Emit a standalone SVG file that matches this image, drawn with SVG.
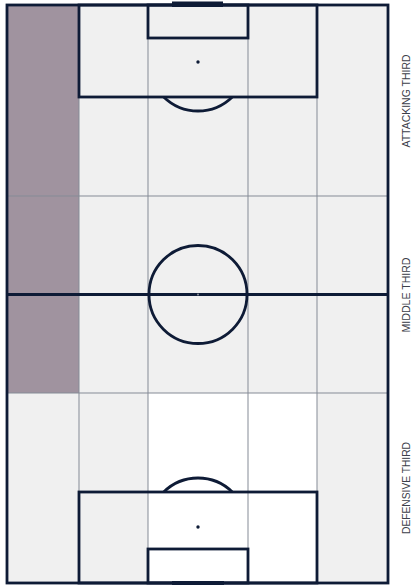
<svg xmlns="http://www.w3.org/2000/svg" width="411" height="585" viewBox="0 0 411 585">
  <style>
    .grid { stroke: #858b96; stroke-width: 1; fill: none; }
    .line { stroke: #0e1b36; stroke-width: 2.8; fill: none; }
    .spot { fill: #0e1b36; }
    .label { font-family: "Liberation Sans", Arial, sans-serif; font-size: 10px; fill: #3c404a; text-anchor: middle; }
  </style>
  <rect x="0" y="0" width="411" height="585" fill="#ffffff"/>
  <g id="zones">
    <rect x="7" y="5" width="381" height="578" fill="#f0f0f0"/>
    <rect x="148" y="393" width="169" height="190" fill="#ffffff"/>
    <rect x="7" y="5" width="72" height="388" fill="#a0939f"/>
  </g>
  <g id="grid">
    <line class="grid" x1="79" y1="5" x2="79" y2="583"/>
    <line class="grid" x1="148" y1="5" x2="148" y2="583"/>
    <line class="grid" x1="248" y1="5" x2="248" y2="583"/>
    <line class="grid" x1="317" y1="5" x2="317" y2="583"/>
    <line class="grid" x1="7" y1="196" x2="388" y2="196"/>
    <line class="grid" x1="7" y1="393" x2="388" y2="393"/>
  </g>
  <g id="pitch-lines">
    <rect class="line" x="7" y="5" width="381" height="578"/>
    <line class="line" x1="7" y1="294.5" x2="388" y2="294.5"/>
    <circle class="line" cx="198" cy="294.5" r="49"/>
    <circle cx="198" cy="294.5" r="1" fill="#8c929c"/>
    <rect class="line" x="79" y="5" width="238" height="92"/>
    <rect class="line" x="148" y="5" width="100" height="33"/>
    <path class="line" d="M163.7 97 A49 49 0 0 0 232.3 97"/>
    <circle class="spot" cx="198" cy="62" r="1.7"/>
    <rect class="spot" x="172" y="1.5" width="51" height="5.5"/>
    <rect class="line" x="79" y="492" width="238" height="91"/>
    <rect class="line" x="148" y="549" width="100" height="34"/>
    <path class="line" d="M163.7 492 A49 49 0 0 1 232.3 492"/>
    <circle class="spot" cx="198" cy="527" r="1.7"/>
    <rect class="spot" x="172" y="581" width="52" height="4"/>
  </g>
  <g id="labels">
    <text class="label" transform="translate(410 101) rotate(-90)" textLength="93" lengthAdjust="spacingAndGlyphs">ATTACKING THIRD</text>
    <text class="label" transform="translate(410 295) rotate(-90)" textLength="75" lengthAdjust="spacingAndGlyphs">MIDDLE THIRD</text>
    <text class="label" transform="translate(410 488) rotate(-90)" textLength="92" lengthAdjust="spacingAndGlyphs">DEFENSIVE THIRD</text>
  </g>
</svg>
